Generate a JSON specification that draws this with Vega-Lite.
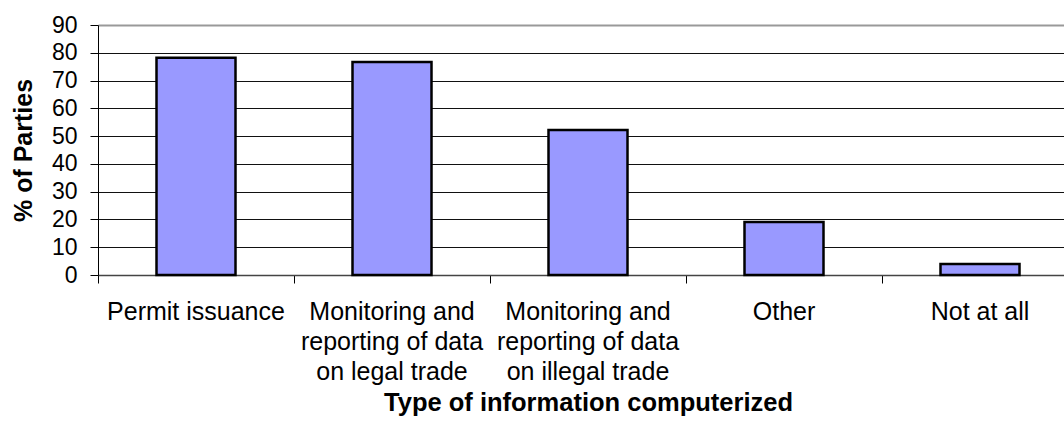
{
  "$schema": "https://vega.github.io/schema/vega-lite/v6.json",
  "autosize": {"type": "none"},
  "padding": {"left": 98, "top": 25, "right": 0, "bottom": 150},
  "width": 966,
  "height": 250,
  "background": "white",
  "config": {
    "view": {"stroke": null},
    "font": "Liberation Sans",
    "axis": {"labelFont": "Liberation Sans", "titleFont": "Liberation Sans", "labelColor": "black", "titleColor": "black"}
  },
  "data": {
    "values": [
      {"type": "Permit issuance", "pct": 78.2},
      {"type": "Monitoring and reporting of data on legal trade", "pct": 76.7},
      {"type": "Monitoring and reporting of data on illegal trade", "pct": 52.2},
      {"type": "Other", "pct": 19.1},
      {"type": "Not at all", "pct": 4.0}
    ]
  },
  "resolve": {"axis": {"x": "independent"}},
  "layer": [
    {
      "mark": {"type": "bar", "fill": "#9999FF", "stroke": "black", "strokeWidth": 2.5, "width": 79},
      "encoding": {
        "x": {
          "field": "type", "type": "nominal", "sort": null,
          "scale": {"range": [0, 980], "paddingInner": 0, "paddingOuter": 0},
          "axis": {
            "orient": "bottom",
            "domain": false, "ticks": false, "tickSize": 0,
            "labelAngle": 0, "labelFontSize": 25, "labelLineHeight": 30,
            "labelBaseline": "top", "labelPadding": 24, "labelLimit": 0,
            "labelOverlap": false,
            "labelExpr": "datum.label == 'Monitoring and reporting of data on legal trade' ? ['Monitoring and', 'reporting of data', 'on legal trade'] : datum.label == 'Monitoring and reporting of data on illegal trade' ? ['Monitoring and', 'reporting of data', 'on illegal trade'] : datum.label",
            "title": "Type of information computerized",
            "titleFontSize": 25.5, "titleFontWeight": "bold",
            "titleX": 490, "titleY": 135, "titleBaseline": "alphabetic", "titleAlign": "center"
          }
        },
        "y": {
          "field": "pct", "type": "quantitative",
          "scale": {"domain": [0, 90], "nice": false},
          "axis": {
            "values": [0, 10, 20, 30, 40, 50, 60, 70, 80, 90],
            "grid": true,
            "gridColor": {"condition": {"test": "datum.value == 90", "value": "#999999"}, "value": "#111111"},
            "gridWidth": {"condition": {"test": "datum.value == 90", "value": 2}, "value": 1},
            "domainColor": "black", "domainWidth": 1,
            "tickColor": "black", "tickSize": 8,
            "labelFontSize": 23, "labelPadding": 13,
            "title": "% of Parties",
            "titleFontSize": 25, "titleFontWeight": "bold",
            "titleX": -75, "titleY": 125, "titleAngle": -90,
            "titleBaseline": "middle", "titleAlign": "center"
          }
        }
      }
    },
    {
      "mark": {"type": "bar", "opacity": 0},
      "encoding": {
        "x": {
          "field": "type", "type": "nominal", "sort": null,
          "scale": {"range": [0, 980], "paddingInner": 0, "paddingOuter": 0},
          "axis": {
            "orient": "bottom",
            "bandPosition": 0,
            "domain": true, "domainColor": "#444444", "domainWidth": 1.5,
            "ticks": true, "tickColor": "black", "tickSize": 8,
            "labels": false, "grid": false,
            "title": null
          }
        }
      }
    }
  ]
}
